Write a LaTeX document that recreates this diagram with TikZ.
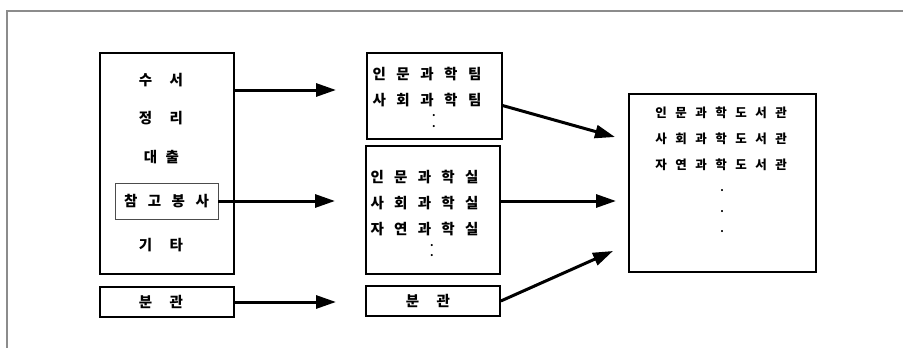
\documentclass[tikz,border=0pt]{standalone}
\usepackage{fontspec}
\setmainfont{Noto Sans CJK KR}
\usepackage{tikz}
\usetikzlibrary{arrows.meta}

% spread the letters of a word: \spread{gap}{word}
\makeatletter
\newcommand\spread[2]{%
  \let\sp@sep\relax
  \@tfor\sp@ch:=#2\do{\sp@sep\sp@ch\def\sp@sep{\hspace{#1}}}}
\makeatother

\begin{document}
\begin{tikzpicture}[x=1pt,y=-1pt,>={Triangle[length=20pt,width=13pt]},
  box/.style={draw,line width=1.7pt,inner sep=0pt},
  lbl/.style={font=\bfseries\fontsize{14.5}{16}\selectfont,inner sep=0pt},
  small/.style={font=\bfseries\fontsize{12.5}{14}\selectfont,inner sep=0pt},
  dots/.style={align=center,inner sep=0pt},
  arr/.style={->,line width=3pt}]
  \useasboundingbox (0,0) rectangle (903,348);
  \draw[black!45,line width=1.2pt] (7,348) -- (7,11) -- (903,11);

  % left column
  \node[box,minimum width=134pt,minimum height=221pt] (work) at (167,163.5) {};
  \node[lbl] (sx) at (161,80) {\spread{17.5pt}{수서}};
  \node[lbl] (jr) at (161,118) {\spread{17.5pt}{정리}};
  \node[lbl] (dc) at (161.5,157) {\spread{8.5pt}{대출}};
  \node[lbl,draw=black!70,line width=0.8pt,minimum width=103pt,minimum height=36pt] (ref) at (166.5,201) {\spread{10.5pt}{참고봉사}};
  \node[lbl] (gt) at (161,245) {\spread{17.5pt}{기타}};
  \node[box,minimum width=134pt,minimum height=30pt] (bun) at (167,302) {};
  \node[lbl] (bunt) at (161,302) {\spread{17.5pt}{분관}};

  % middle column
  \node[box,minimum width=135pt,minimum height=86pt] (team) at (434.5,96) {};
  \node[lbl] (team1) at (427,74) {\spread{10.5pt}{인문과학팀}};
  \node[lbl] (team2) at (427,100) {\spread{10.5pt}{사회과학팀}};
  \node[dots,font=\bfseries\fontsize{10}{11}\selectfont] (teamd) at (434,121) {.\\.};
  \node[box,minimum width=134pt,minimum height=128pt] (room) at (433,210) {};
  \node[lbl] (room1) at (424.5,177) {\spread{10.25pt}{인문과학실}};
  \node[lbl] (room2) at (424.5,203) {\spread{10.25pt}{사회과학실}};
  \node[lbl] (room3) at (424.5,229) {\spread{10.25pt}{자연과학실}};
  \node[dots,font=\bfseries\fontsize{10}{10}\selectfont] (roomd) at (432,251) {.\\.};
  \node[box,minimum width=134pt,minimum height=30pt] (bun2) at (433,301) {};
  \node[lbl] (bun2t) at (428,301) {\spread{17.5pt}{분관}};

  % right column
  \node[box,minimum width=187pt,minimum height=178pt] (lib) at (722.5,183) {};
  \node[small] (lib1) at (721,113) {\spread{8.5pt}{인문과학도서관}};
  \node[small] (lib2) at (721,139) {\spread{8.5pt}{사회과학도서관}};
  \node[small] (lib3) at (721,165) {\spread{8.5pt}{자연과학도서관}};
  \node[dots,font=\bfseries\fontsize{10}{20.5}\selectfont] (libd) at (722,211.5) {.\\.\\.};

  % arrows
  \coordinate (a1) at (336,90);
  \coordinate (a2) at (335,201);
  \coordinate (a3) at (336,302);
  \coordinate (b1) at (615,137);
  \coordinate (b2) at (616,201);
  \coordinate (b3) at (613,251);
  \draw[arr] (work.east |- a1) -- (a1);
  \draw[arr] (ref.east) -- (a2);
  \draw[arr] (bun.east) -- (a3);
  \draw[arr] (team.-8) -- (b1);
  \draw[arr] (room.east |- b2) -- (b2);
  \draw[arr] (bun2.east) -- (b3);
\end{tikzpicture}
\end{document}
